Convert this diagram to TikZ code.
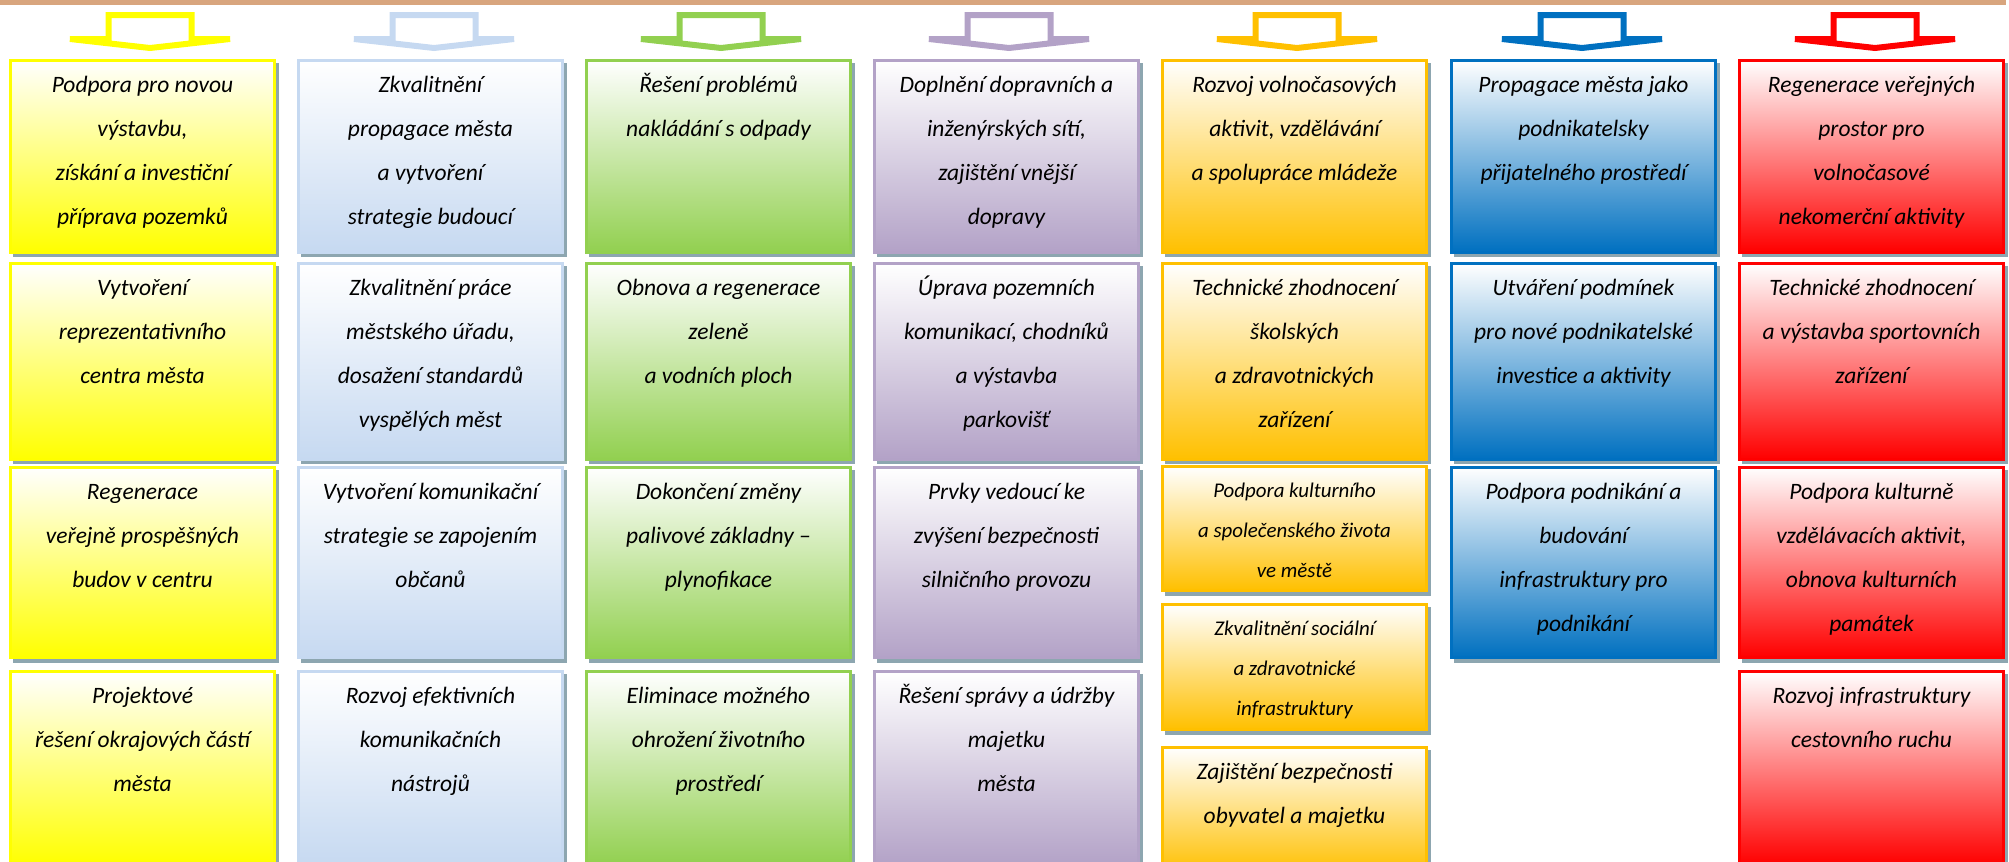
\documentclass[tikz,border=0pt]{standalone}
\usepackage{fontspec}
\IfFontExistsTF{Carlito Italic}
 {\setmainfont{Carlito}[ItalicFont={Carlito Italic}]}
 {\setmainfont{Carlito}[ItalicFeatures={FakeSlant=0.2}]}
\definecolor{cyel}{RGB}{255,255,0}
\definecolor{clbl}{RGB}{198,217,241}
\definecolor{cgrn}{RGB}{146,208,80}
\definecolor{clav}{RGB}{179,162,199}
\definecolor{corg}{RGB}{255,192,0}
\definecolor{cblu}{RGB}{0,112,192}
\definecolor{cred}{RGB}{255,0,0}
\definecolor{cshd}{RGB}{141,166,176}
\definecolor{ctop}{RGB}{216,165,126}
\tikzset{
 txt/.style={align=center, inner sep=0pt, text=black, font=\fontsize{11.75pt}{22pt}\selectfont\itshape},
 txts/.style={align=center, inner sep=0pt, text=black, font=\fontsize{10.45pt}{20pt}\selectfont\itshape},
 arr/.style={line width=3pt, line join=miter, miter limit=4},
 shd/.style={fill=cshd},
 topline/.style={fill=ctop},
}
\newcommand\stratarrow[2]{%
 \draw[arr, draw=#2] (#1-41.5,15) -- (#1+41.5,15) -- (#1+41.5,39) -- (#1+80,39) -- (#1,48) -- (#1-80,39) -- (#1-41.5,39) -- cycle;}
\newcommand\stratbox[8]{% name, left, top, bottom, color, style, north offset, text
 \fill[shd] (#2+4,#3+4) rectangle (#2+270,#4+3.5);
 \path[draw=#5, line width=1.5pt, top color=white, middle color=#5!35!white, bottom color=#5] (#2+1.5,#3+1.5) rectangle (#2+265.5,#4-1.5);
 \node[#6, anchor=north] (#1) at (#2+133.5,#3+#7) {\strut #8};
}
\begin{document}
\begin{tikzpicture}[x=0.5pt,y=-0.5pt]
\useasboundingbox (0,0) rectangle (2009,862);
\clip (0,0) rectangle (2009,862);
\fill[topline] (0,0) rectangle (2006,4.5);
% arrows
\stratarrow{150}{cyel}
\stratarrow{434}{clbl}
\stratarrow{721}{cgrn}
\stratarrow{1009}{clav}
\stratarrow{1297}{corg}
\stratarrow{1582}{cblu}
\stratarrow{1875}{cred}
% column 1
\stratbox{a1}{9}{58.5}{253.5}{cyel}{txt}{2.7}{Podpora pro novou\\výstavbu,\\získání a investiční\\příprava pozemků}
\stratbox{a2}{9}{262}{460.5}{cyel}{txt}{2.7}{Vytvoření\\reprezentativního\\centra města}
\stratbox{a3}{9}{465.5}{659}{cyel}{txt}{2.7}{Regenerace\\veřejně prospěšných\\budov v centru}
\stratbox{a4}{9}{670}{866}{cyel}{txt}{2.7}{Projektové\\řešení okrajových částí\\města}
% column 2
\stratbox{b1}{297}{58.5}{253.5}{clbl}{txt}{2.7}{Zkvalitnění\\propagace města\\a vytvoření\\strategie budoucí}
\stratbox{b2}{297}{262}{460.5}{clbl}{txt}{2.7}{Zkvalitnění práce\\městského úřadu,\\dosažení standardů\\vyspělých měst}
\stratbox{b3}{297}{465.5}{659}{clbl}{txt}{2.7}{Vytvoření komunikační\\strategie se zapojením\\občanů}
\stratbox{b4}{297}{670}{866}{clbl}{txt}{2.7}{Rozvoj efektivních\\komunikačních\\nástrojů}
% column 3
\stratbox{c1}{585}{58.5}{253.5}{cgrn}{txt}{2.7}{Řešení problémů\\nakládání s odpady}
\stratbox{c2}{585}{262}{460.5}{cgrn}{txt}{2.7}{Obnova a regenerace\\zeleně\\a vodních ploch}
\stratbox{c3}{585}{465.5}{659}{cgrn}{txt}{2.7}{Dokončení změny\\palivové základny –\\plynofikace}
\stratbox{c4}{585}{670}{866}{cgrn}{txt}{2.7}{Eliminace možného\\ohrožení životního\\prostředí}
% column 4
\stratbox{d1}{873}{58.5}{253.5}{clav}{txt}{2.7}{Doplnění dopravních a\\inženýrských sítí,\\zajištění vnější\\dopravy}
\stratbox{d2}{873}{262}{460.5}{clav}{txt}{2.7}{Úprava pozemních\\komunikací, chodníků\\a výstavba\\parkovišť}
\stratbox{d3}{873}{465.5}{659}{clav}{txt}{2.7}{Prvky vedoucí ke\\zvýšení bezpečnosti\\silničního provozu}
\stratbox{d4}{873}{670}{866}{clav}{txt}{2.7}{Řešení správy a údržby\\majetku\\města}
% column 5
\stratbox{e1}{1161}{58.5}{253.5}{corg}{txt}{2.7}{Rozvoj volnočasových\\aktivit, vzdělávání\\a spolupráce mládeže}
\stratbox{e2}{1161}{262}{460.5}{corg}{txt}{2.7}{Technické zhodnocení\\školských\\a zdravotnických\\zařízení}
\stratbox{e3}{1161}{465}{592}{corg}{txts}{4.5}{Podpora kulturního\\a společenského života\\ve městě}
\stratbox{e4}{1161}{603}{731}{corg}{txts}{4.5}{Zkvalitnění sociální\\a zdravotnické\\infrastruktury}
\stratbox{e5}{1161}{746}{875}{corg}{txt}{2.7}{Zajištění bezpečnosti\\obyvatel a majetku}
% column 6
\stratbox{f1}{1450}{58.5}{253.5}{cblu}{txt}{2.7}{Propagace města jako\\podnikatelsky\\přijatelného prostředí}
\stratbox{f2}{1450}{262}{460.5}{cblu}{txt}{2.7}{Utváření podmínek\\pro nové podnikatelské\\investice a aktivity}
\stratbox{f3}{1450}{465.5}{659}{cblu}{txt}{2.7}{Podpora podnikání a\\budování\\infrastruktury pro\\podnikání}
% column 7
\stratbox{g1}{1738}{58.5}{253.5}{cred}{txt}{2.7}{Regenerace veřejných\\prostor pro\\volnočasové\\nekomerční aktivity}
\stratbox{g2}{1738}{262}{460.5}{cred}{txt}{2.7}{Technické zhodnocení\\a výstavba sportovních\\zařízení}
\stratbox{g3}{1738}{465.5}{659}{cred}{txt}{2.7}{Podpora kulturně\\vzdělávacích aktivit,\\obnova kulturních\\památek}
\stratbox{g4}{1738}{670}{866}{cred}{txt}{2.7}{Rozvoj infrastruktury\\cestovního ruchu}
\end{tikzpicture}
\end{document}
